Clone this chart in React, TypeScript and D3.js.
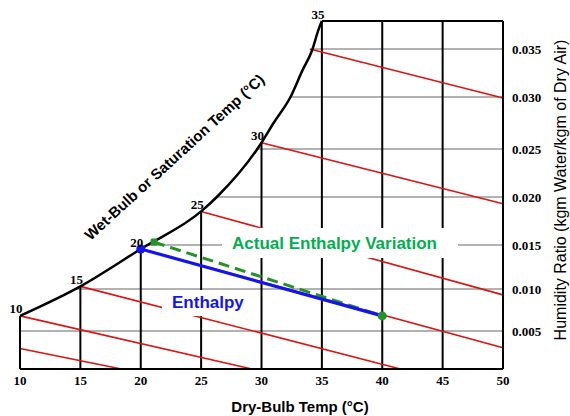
import React from "react";
import * as d3 from "d3";

const width = 570;
const height = 416;

// saturation curve: dry-bulb temp (°C) and humidity ratio
const satTemp = [10, 15, 20, 25, 26.3, 30, 31, 32.4, 33.4, 34.2, 34.7, 35];
const satRatio = [0.0068, 0.0103, 0.01455, 0.0185, 0.02, 0.0256, 0.0275, 0.03, 0.0328, 0.0349, 0.037, 0.038];
const satLabels = [10, 15, 20, 25, 30, 35];

const dryBulbTicks = [10, 15, 20, 25, 30, 35, 40, 45, 50];
const verticalTemps = [15, 20, 25, 30, 35, 40, 45];
const ratioTicks = [0.005, 0.01, 0.015, 0.02, 0.025, 0.03, 0.035];
const ratioStops = [0, 0.005, 0.01, 0.015, 0.02, 0.025, 0.03, 0.035, 0.038];

// constant wet-bulb (enthalpy) lines, start and end points
const wbStartT = [10, 10, 15, 20, 25, 30, 34];
const wbStartW = [0.0027, 0.0068, 0.0103, 0.01455, 0.0185, 0.0256, 0.035];
const wbEndT = [18.4, 29.2, 41.5, 50, 50, 50, 50];
const wbEndW = [0, 0, 0, 0.0028, 0.0093, 0.0193, 0.0299];

// process lines
const enthalpyT = [20, 40];
const enthalpyW = [0.01455, 0.0068];
const actualT = [21.1, 40];
const actualW = [0.0153, 0.0068];

const serif = "'Liberation Serif', 'Times New Roman', serif";
const sans = "'Liberation Sans', Arial, sans-serif";

export default function App() {
  const x = d3.scaleLinear().domain([10, 50]).range([20, 503]);
  // the printed chart has uneven spacing between ratio lines
  const y = d3.scaleLinear().domain(ratioStops).range([369, 331, 289, 245, 197, 149, 97, 49, 21]);

  const satAt = d3.scaleLinear().domain(satTemp).range(satRatio).clamp(true);
  const tempAt = d3.scaleLinear().domain(satRatio).range(satTemp).clamp(true);

  const line = d3
    .line<[number, number]>()
    .x((d) => x(d[0]))
    .y((d) => y(d[1]));
  const curve = d3
    .line<[number, number]>()
    .x((d) => x(d[0]))
    .y((d) => y(d[1]))
    .curve(d3.curveMonotoneX);

  const satPts = satTemp.map((t, i) => [t, satRatio[i]] as [number, number]);
  const wMax = d3.max(ratioStops)!;

  return (
    <svg
      width={width}
      height={height}
      style={{ position: "absolute", left: 0, top: 0, background: "white" }}
    >
      {/* humidity ratio grid */}
      {ratioTicks.map((w) => (
        <line
          key={w}
          x1={x(tempAt(w))}
          x2={x(50)}
          y1={y(w)}
          y2={y(w)}
          stroke="#999"
          strokeWidth={1.3}
        />
      ))}

      {/* dry-bulb verticals */}
      {verticalTemps.map((t) => (
        <line
          key={t}
          x1={x(t)}
          x2={x(t)}
          y1={y(satAt(t))}
          y2={y(0)}
          stroke="#000"
          strokeWidth={2}
        />
      ))}

      {/* wet-bulb lines */}
      {wbStartT.map((t, i) => (
        <path
          key={i}
          d={line([
            [t, wbStartW[i]],
            [wbEndT[i], wbEndW[i]],
          ])!}
          stroke="#dc1414"
          strokeWidth={1.6}
          fill="none"
        />
      ))}

      {/* label backgrounds */}
      <rect x={222} y={228} width={236} height={30} fill="white" />
      <rect x={162} y={290} width={92} height={26} fill="white" />

      {/* borders */}
      <line x1={x(10)} x2={x(50)} y1={y(0)} y2={y(0)} stroke="#000" strokeWidth={2} />
      <line x1={x(50)} x2={x(50)} y1={y(wMax)} y2={y(0)} stroke="#000" strokeWidth={2} />
      <line x1={x(35)} x2={x(50)} y1={y(wMax)} y2={y(wMax)} stroke="#000" strokeWidth={2} />
      <line x1={x(10)} x2={x(10)} y1={y(satAt(10))} y2={y(0)} stroke="#000" strokeWidth={2} />

      {/* saturation curve */}
      <path d={curve(satPts)!} fill="none" stroke="#000" strokeWidth={2.5} />

      {/* actual process */}
      <path
        d={line(actualT.map((t, i) => [t, actualW[i]] as [number, number]))!}
        fill="none"
        stroke="#22922a"
        strokeWidth={3}
        strokeDasharray="11,6"
      />
      {/* ideal enthalpy line */}
      <path
        d={line(enthalpyT.map((t, i) => [t, enthalpyW[i]] as [number, number]))!}
        fill="none"
        stroke="#1414f0"
        strokeWidth={3.2}
      />
      <circle cx={x(enthalpyT[0])} cy={y(enthalpyW[0])} r={4.5} fill="#1414f0" />
      <rect
        x={x(actualT[0]) - 3.5}
        y={y(actualW[0]) - 3.5}
        width={7}
        height={7}
        rx={1.5}
        fill="#22922a"
      />
      <circle cx={x(actualT[1])} cy={y(actualW[1])} r={4.5} fill="#22922a" />

      {/* saturation labels */}
      {satLabels.map((t) => (
        <text
          key={t}
          x={x(t) - 4}
          y={y(satAt(t)) - 7}
          dy="0.35em"
          textAnchor="middle"
          fontFamily={serif}
          fontWeight="bold"
          fontSize={13}
        >
          {t}
        </text>
      ))}

      {/* x ticks */}
      {dryBulbTicks.map((t) => (
        <text
          key={t}
          x={x(t)}
          y={y(0) + 11}
          dy="0.35em"
          textAnchor="middle"
          fontFamily={serif}
          fontWeight="bold"
          fontSize={13}
        >
          {t}
        </text>
      ))}

      {/* y ticks */}
      {ratioTicks.map((w) => (
        <text
          key={w}
          x={x(50) + 9}
          y={y(w)}
          dy="0.35em"
          fontFamily={serif}
          fontWeight="bold"
          fontSize={13}
        >
          {d3.format(".3f")(w)}
        </text>
      ))}

      {/* annotations */}
      <text x={232} y={248.5} fontFamily={sans} fontWeight="bold" fontSize={17} fill="#00b050">
        Actual Enthalpy Variation
      </text>
      <text x={172} y={308} fontFamily={sans} fontWeight="bold" fontSize={17} fill="#1414f0">
        Enthalpy
      </text>

      {/* axis titles */}
      <text
        x={300}
        y={412}
        textAnchor="middle"
        fontFamily={sans}
        fontWeight="bold"
        fontSize={15}
      >
        Dry-Bulb Temp (°C)
      </text>
      <text
        transform="translate(566,190) rotate(-90)"
        textAnchor="middle"
        fontFamily={sans}
        fontSize={16}
      >
        Humidity Ratio (kgm Water/kgm of Dry Air)
      </text>
      <text
        transform="translate(178,161) rotate(-42.5)"
        textAnchor="middle"
        fontFamily={sans}
        fontWeight="bold"
        fontSize={15}
      >
        Wet-Bulb or Saturation Temp (°C)
      </text>
    </svg>
  );
}
